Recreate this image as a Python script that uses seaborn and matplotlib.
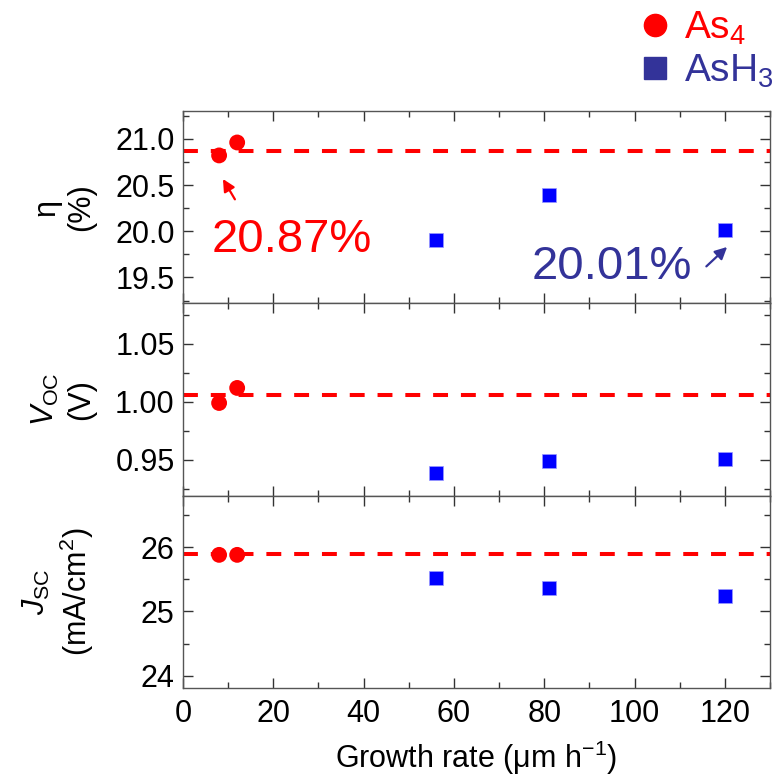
import pandas as pd
import matplotlib
matplotlib.use('Agg')
import matplotlib.pyplot as plt
import seaborn as sns
from matplotlib.ticker import MultipleLocator
from matplotlib.lines import Line2D

# growth rates (um/h)
as4_rate = [8, 12]
ash3_rate = [56, 81, 120]

# efficiency (%)
as4_eta = [20.82, 20.96]
ash3_eta = [19.90, 20.39, 20.01]
eta_ref = 20.87

# open circuit voltage (V)
as4_voc = [0.999, 1.012]
ash3_voc = [0.939, 0.949, 0.951]
voc_ref = 1.006

# short circuit current (mA/cm2)
as4_jsc = [25.88, 25.88]
ash3_jsc = [25.52, 25.36, 25.24]
jsc_ref = 25.9

labels = ['\u03b7\n(%)', '$V_{\\rm OC}$\n(V)', '$J_{\\rm SC}$\n(mA/cm$^2$)']

RED = '#ff0000'
BLUE = '#0000ff'
NAVY = '#333399'


def setup():
    sns.set_style('ticks')
    plt.rcParams['font.family'] = ['Liberation Sans', 'DejaVu Sans']
    plt.rcParams['mathtext.fontset'] = 'custom'
    plt.rcParams['mathtext.rm'] = 'Liberation Sans'
    plt.rcParams['mathtext.it'] = 'Liberation Sans:italic'
    plt.rcParams['mathtext.bf'] = 'Liberation Sans:bold'
    plt.rcParams['text.color'] = 'black'
    plt.rcParams['axes.labelcolor'] = 'black'
    plt.rcParams['xtick.color'] = 'black'
    plt.rcParams['ytick.color'] = 'black'


def panel(ax, as4, ash3, ref, label, ylim, major, minor):
    df_a = pd.DataFrame({'rate': as4_rate, 'val': as4})
    df_b = pd.DataFrame({'rate': ash3_rate, 'val': ash3})
    ax.axhline(ref, color=RED, lw=2.9, dashes=(3.7, 3.2), zorder=1)
    sns.scatterplot(data=df_a, x='rate', y='val', ax=ax, color=RED,
                    marker='o', s=130, edgecolor='none', zorder=3)
    sns.scatterplot(data=df_b, x='rate', y='val', ax=ax, color=BLUE,
                    marker='s', s=115, edgecolor='#9999ff', linewidth=0.5, zorder=3)
    ax.set_xlim(0, 130)
    ax.set_ylim(*ylim)
    ax.xaxis.set_major_locator(MultipleLocator(20))
    ax.xaxis.set_minor_locator(MultipleLocator(10))
    ax.yaxis.set_major_locator(MultipleLocator(major))
    ax.yaxis.set_minor_locator(MultipleLocator(minor))
    ax.tick_params(which='both', direction='in', top=True, right=True,
                   width=1, color='#333333', labelsize=22, labelcolor='black')
    ax.tick_params(which='major', length=7)
    ax.tick_params(which='minor', length=4)
    ax.tick_params(axis='x', pad=8)
    ax.tick_params(axis='y', pad=6)
    for sp in ax.spines.values():
        sp.set_color('#555555')
        sp.set_linewidth(1)
    ax.set_ylabel(label, fontsize=22, linespacing=1.2)
    ax.yaxis.set_label_coords(-0.148, 0.5)
    ax.set_xlabel('')


def main():
    setup()
    fig, axes = plt.subplots(3, 1, figsize=(7.76, 7.82), dpi=100, sharex=True)
    fig.subplots_adjust(left=0.2358, right=0.9923, top=0.858, bottom=0.1202, hspace=0)

    panel(axes[0], as4_eta, ash3_eta, eta_ref, labels[0], (19.22, 21.3), 0.5, 0.25)
    panel(axes[1], as4_voc, ash3_voc, voc_ref, labels[1], (0.919, 1.085), 0.05, 0.025)
    panel(axes[2], as4_jsc, ash3_jsc, jsc_ref, labels[2], (23.81, 26.8), 1, 0.5)

    for ax in axes[:2]:
        ax.tick_params(axis='x', labelbottom=False)

    axes[2].set_xlabel('Growth rate (\u03bcm h$^{-1}$)', fontsize=22, labelpad=7)

    # value callouts
    axes[0].annotate('20.87%', xy=(8.85, 20.565), xytext=(24.1, 19.905),
                     color=RED, fontsize=34, ha='center', va='center')
    axes[0].annotate('', xy=(8.85, 20.565), xytext=(11.5, 20.345),
                     arrowprops=dict(arrowstyle='-|>', color=RED, lw=1.6,
                                     mutation_scale=18, shrinkA=0, shrinkB=0))
    axes[0].annotate('20.01%', xy=(120.5, 19.83), xytext=(94.9, 19.61),
                     color=NAVY, fontsize=34, ha='center', va='center')
    axes[0].annotate('', xy=(120.5, 19.83), xytext=(115.9, 19.62),
                     arrowprops=dict(arrowstyle='-|>', color=NAVY, lw=1.6,
                                     mutation_scale=18, shrinkA=0, shrinkB=0))

    handles = [
        Line2D([], [], marker='o', ls='none', color=RED, markersize=16),
        Line2D([], [], marker='s', ls='none', color=NAVY, markersize=16),
    ]
    fig.legend(handles, ['As$_4$', 'AsH$_3$'], loc='upper left',
               bbox_to_anchor=(0.819, 0.988), frameon=False, fontsize=28,
               labelcolor=[RED, NAVY], handletextpad=0.25, labelspacing=0.15,
               borderpad=0, borderaxespad=0, handlelength=1.0)

    fig.savefig('out.png', dpi=100)


if __name__ == '__main__':
    main()
